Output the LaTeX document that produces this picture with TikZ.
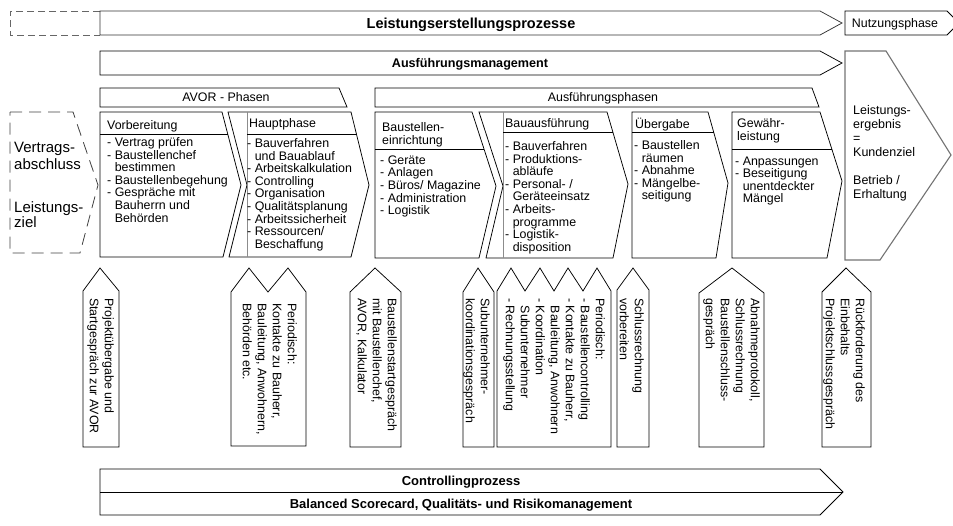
\documentclass[tikz,border=0pt]{standalone}
\usepackage{fontspec}
\setmainfont{Liberation Sans}
\newcommand{\myind}{\hphantom{- }}
\begin{document}
\begin{tikzpicture}[x=1pt,y=-1pt,line join=miter]
\tikzset{
  ln/.style={draw=black,line width=0.75pt},
  gln/.style={draw=black!45,line width=0.5pt},
  dsh/.style={draw=black!75,line width=0.8pt,dash pattern=on 12pt off 7pt},
  dshs/.style={draw=black!60,line width=0.8pt,dash pattern=on 7pt off 4pt},
  txt/.style={inner sep=0pt,align=left,anchor=north west,font=\fontsize{12.4}{12.6}\selectfont},
  one/.style={inner sep=0pt,anchor=base,font=\fontsize{12.4}{14}\selectfont},
  bold/.style={inner sep=0pt,anchor=base,font=\bfseries\fontsize{12.6}{14}\selectfont},
  co/.style={inner sep=0pt,align=left,rotate=-90,anchor=north west,font=\fontsize{12.4}{15}\selectfont},
}
\useasboundingbox (0,0) rectangle (953,525);
\begin{scope}
\clip (0,0) rectangle (953,525);
% top bands
\draw[dshs] (100,11) -- (10,11) -- (10,35) -- (100,35);
\draw[ln,draw=black!80] (100,11) -- (820,11) -- (842,23) -- (820,35) -- (100,35) -- cycle;
\node[bold,font=\bfseries\fontsize{14.5}{16}\selectfont] (lep) at (471,28.2) {Leistungserstellungsprozesse};
\draw[ln] (845,11) -- (947,11) -- (959,23) -- (947,35) -- (845,35) -- cycle;
\node[one] (nutz) at (895,27.3) {Nutzungsphase};
\draw[ln] (100,51) -- (820,51) -- (842,63) -- (820,75) -- (100,75) -- cycle;
\node[bold] (afm) at (470,67.5) {Ausführungsmanagement};
% result chevron
\draw[draw=black!55,line width=1.1pt] (845,51) -- (886,51) -- (951,155) -- (880,260) -- (845,260) -- cycle;
\node[txt,font=\fontsize{12.5}{14}\selectfont] (erg) at (853,105.4) {Leistungs-\\ergebnis\\=\\Kundenziel\\[14pt]Betrieb /\\Erhaltung};
\end{scope}
% phase bands
\draw[ln] (100,88) -- (339,88) -- (347,107) -- (100,107) -- cycle;
\node[one] (avor) at (226,101.4) {AVOR - Phasen};
\draw[ln] (375,88) -- (812,88) -- (819,107) -- (375,107) -- cycle;
\node[one] (afp) at (603,101.4) {Ausführungsphasen};
% left dashed chevron
\draw[dsh] (10,112) -- (73,112) -- (98,185) -- (80,253) -- (10,253) -- cycle;
\node[txt,font=\fontsize{15}{17}\selectfont] (vtr) at (14,142.4) {Vertrags-\\abschluss};
\node[txt,font=\fontsize{15}{15}\selectfont] (lz) at (14,201.4) {Leistungs-\\ziel};
% Vorbereitung
\draw[ln] (100,112) -- (222,112) -- (241,185) -- (223,257) -- (100,257) -- cycle;
\draw[ln] (100,134) -- (227.7,134);
\node[txt] (vbh) at (107,120.4) {Vorbereitung};
\node[txt] (vbi) at (107,137.4) {- Vertrag prüfen\\- Baustellenchef\\\myind bestimmen\\- Baustellenbegehung\\- Gespräche mit\\\myind Bauherrn und\\\myind Behörden};
% Hauptphase
\draw[ln] (228,112) -- (351,112) -- (369,185) -- (351,257) -- (229,257) -- (247,185) -- cycle;
\draw[gln] (247,112) -- (247,257);
\draw[ln] (247,134) -- (356.4,134);
\node[txt] (hph) at (249,118.4) {Hauptphase};
\node[txt] (hpi) at (247,138.4) {- Bauverfahren\\\myind und Bauablauf\\- Arbeitskalkulation\\- Controlling\\- Organisation\\- Qualitätsplanung\\- Arbeitssicherheit\\- Ressourcen/\\\myind Beschaffung};
% Baustelleneinrichtung
\draw[ln] (375,112) -- (472,112) -- (496,186) -- (479,258) -- (375,258) -- cycle;
\draw[ln] (375,149) -- (484,149);
\node[txt] (beh) at (382,122.4) {Baustellen-\\einrichtung};
\node[txt] (bei) at (380,155.4) {- Geräte\\- Anlagen\\- Büros/ Magazine\\- Administration\\- Logistik};
% Bauausfuehrung
\draw[ln] (479,112) -- (607,112) -- (628,184) -- (613,258) -- (486,258) -- (503,186) -- cycle;
\draw[gln] (503,112) -- (503,258);
\draw[ln] (503,132) -- (612.8,132);
\node[txt] (bah) at (505,118.4) {Bauausführung};
\node[txt] (bai) at (505,141.4) {- Bauverfahren\\- Produktions-\\\myind abläufe\\- Personal- /\\\myind Geräteeinsatz\\- Arbeits-\\\myind programme\\- Logistik-\\\myind disposition};
% Uebergabe
\draw[ln] (632,112) -- (708,112) -- (728,183) -- (716,258) -- (632,258) -- cycle;
\draw[ln] (632,132) -- (713.6,132);
\node[txt] (ubh) at (635,118.4) {Übergabe};
\node[txt] (ubi) at (634,140.4) {- Baustellen\\\myind räumen\\- Abnahme\\- Mängelbe-\\\myind seitigung};
% Gewaehrleistung
\draw[ln] (732,112) -- (820,112) -- (842,181) -- (827,258) -- (732,258) -- cycle;
\draw[ln] (732,149) -- (831.8,149);
\node[txt] (gwh) at (737,118.4) {Gewähr-\\leistung};
\node[txt] (gwi) at (735,156.4) {- Anpassungen\\- Beseitigung\\\myind unentdeckter\\\myind Mängel};
% callouts
\draw[ln] (83,447) -- (83,291) -- (100,268) -- (119,291) -- (119,447) -- cycle;
\node[co] (c1) at (114,298) {Projektübergabe und\\Startgespräch zur AVOR};
\draw[ln] (231,446) -- (231,292) -- (249,268) -- (268,292) -- (288,268) -- (306,292) -- (306,446) -- cycle;
\node[co] (c2) at (297,303) {Periodisch:\\Kontakte zu Bauherr,\\Bauleitung, Anwohnern,\\Behörden etc.};
\draw[ln] (350,447) -- (350,292) -- (375,268) -- (401,292) -- (401,447) -- cycle;
\node[co] (c3) at (397,298) {Baustellenstartgespräch\\mit Baustellenchef,\\AVOR, Kalkulator};
\draw[ln] (463,447) -- (463,292) -- (478,268) -- (494,292) -- (494,447) -- cycle;
\node[co] (c4) at (490,298) {Subunternehmer-\\koordinationsgespräch};
\draw[ln] (497,447) -- (497,291) -- (511,268) -- (525,291) -- (540,268) -- (554,291) -- (568,268) -- (583,291) -- (597,268) -- (611,291) -- (611,447) -- cycle;
\node[co] (c5) at (605,298) {Periodisch:\\- Baustellencontrolling\\- Kontakte zu Bauherr,\\\myind Bauleitung, Anwohnern\\- Koordination\\\myind Subunternehmer\\- Rechnungsstellung};
\draw[ln] (617,447) -- (617,290) -- (633,268) -- (649,290) -- (649,447) -- cycle;
\node[co] (c6) at (644,298) {Schlussrechnung\\vorbereiten};
\draw[ln] (699,447) -- (699,293) -- (732,268) -- (764,293) -- (764,447) -- cycle;
\node[co] (c7) at (760,298) {Abnahmeprotokoll,\\Schlussrechnung\\Baustellenschluss-\\gespräch};
\draw[ln] (822,447) -- (822,292) -- (846,268) -- (871,292) -- (871,447) -- cycle;
\node[co] (c8) at (865,298) {Rückforderung des\\Einbehalts\\Projektschlussgespräch};
% controlling band
\draw[ln] (100,469) -- (820,469) -- (843,492) -- (820,515) -- (100,515) -- cycle;
\draw[ln] (100,492) -- (843,492);
\node[bold,font=\bfseries\fontsize{13}{14}\selectfont] (cp) at (461,485.7) {Controllingprozess};
\node[bold,font=\bfseries\fontsize{13}{14}\selectfont] (bsc) at (461,508.7) {Balanced Scorecard, Qualitäts- und Risikomanagement};
\end{tikzpicture}
\end{document}
